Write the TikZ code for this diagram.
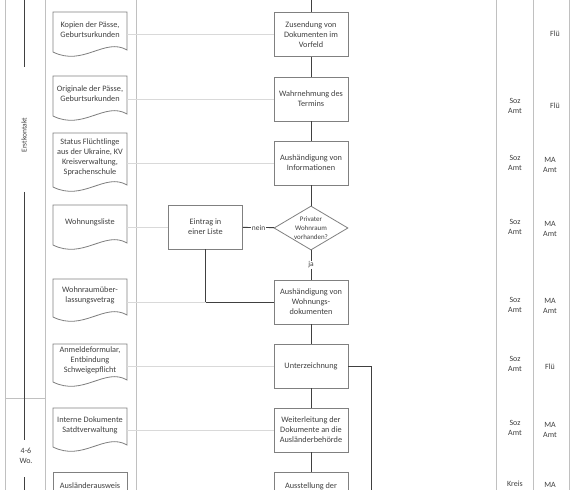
\documentclass[tikz,border=0pt]{standalone}
\usepackage{fontspec}
\setmainfont{Carlito}
\usetikzlibrary{shapes.geometric}
\definecolor{txt}{HTML}{404040}
\definecolor{lanec}{HTML}{C0C0C0}
\definecolor{boxc}{HTML}{808080}
\definecolor{conn}{HTML}{404040}
\definecolor{thinc}{HTML}{D9D9D9}
\tikzset{
  laneline/.style={draw=lanec, line width=0.8bp},
  procbox/.style={draw=boxc, fill=white, line width=0.8bp, minimum width=74bp, minimum height=44bp,
    align=center, inner sep=1bp, text=txt, font=\fontsize{8.3}{10}\selectfont},
  doctext/.style={minimum width=74bp, inner sep=0pt, anchor=north, align=center, text=txt,
    font=\fontsize{8.3}{10}\selectfont},
  docline/.style={draw=boxc, fill=white, line width=0.8bp},
  flow/.style={draw=conn, line width=0.8bp},
  thinline/.style={draw=thinc, line width=0.8bp},
  lanetext/.style={align=center, text=txt, inner sep=0pt, font=\fontsize{8}{10}\selectfont},
  lbl/.style={fill=white, inner sep=0.5bp, text=txt, font=\fontsize{7.5}{9}\selectfont},
  bracket/.style={draw=conn, line width=0.7bp},
}
\newcommand{\docbox}[5]{%
  \draw[docline] (53,#2) -- (127,#2) -- (127,#3-2) .. controls (105,#3-15) and (83,#3+15) .. (53,#3) -- cycle;
  \node[doctext, minimum height=#3-#2-5] (#1) at (90,#2) {#5};
}
\begin{document}
\begin{tikzpicture}[x=1bp,y=-1bp]
\clip (0,0) rectangle (570,490);
\fill[white] (0,0) rectangle (570,490);
% lanes
\draw[laneline] (5,0) -- (5,490);
\draw[laneline] (45,0) -- (45,490);
\draw[laneline] (136,0) -- (136,490);
\draw[laneline] (496,0) -- (496,490);
\draw[laneline] (533,0) -- (533,490);
\draw[laneline] (569,0) -- (569,490);
\draw[laneline] (5,398) -- (45,398);
% phase brackets
\coordinate (k1) at (24,0);
\coordinate (k2) at (24,67);
\coordinate (k3) at (24,192);
\coordinate (k4) at (24,440);
\coordinate (k5) at (24,477);
\coordinate (k6) at (24,490);
\draw[bracket] (k1) -- (k2);
\draw[bracket] (k3) -- (k4);
\draw[bracket] (k5) -- (k6);
\node[lanetext, rotate=90, font=\fontsize{7.5}{9}\selectfont] (ek) at (24,135) {Erstkontakt};
\node[lanetext] (wo) at (26,456) {4-6\\Wo.};
% documents
\docbox{d1}{12}{52}{}{Kopien der Pässe,\\Geburtsurkunden}
\docbox{d2}{76}{116}{}{Originale der Pässe,\\Geburtsurkunden}
\docbox{d3}{133}{187}{}{Status Flüchtlinge\\aus der Ukraine, KV\\Kreisverwaltung,\\Sprachenschule}
\docbox{d4}{205}{245}{}{Wohnungsliste}
\docbox{d5}{279}{317}{}{Wohnraumüber-\\lassungsvetrag}
\docbox{d6}{344}{382}{}{Anmeldeformular,\\Entbindung\\Schweigepflicht}
\docbox{d7}{408}{447}{}{Interne Dokumente\\Satdtverwaltung}
\draw[docline] (53,472) -- (127,472) -- (127,510) -- (53,510) -- cycle;
\node[doctext, anchor=center] (d8) at (90,486) {Ausländerausweis};
% process
\coordinate (top) at (311,0);
\node[procbox] (b1) at (311,34.5) {Zusendung von\\Dokumenten im\\Vorfeld};
\node[procbox] (b2) at (311,99) {Wahrnehmung des\\Termins};
\node[procbox] (b3) at (311,163) {Aushändigung von\\Informationen};
\node[diamond, draw=boxc, fill=white, line width=0.8bp, minimum width=74bp, minimum height=44bp, inner sep=0pt] (dia) at (311,228) {};
\node[align=center, text=txt, inner sep=0pt, font=\fontsize{7}{9}\selectfont] (diat) at (311,228) {Privater\\Wohnraum\\vorhanden?};
\node[procbox] (b5) at (311,302) {Aushändigung von\\Wohnungs-\\dokumenten};
\node[procbox] (b6) at (311,366) {Unterzeichnung};
\node[procbox] (b7) at (311,430) {Weiterleitung der\\Dokumente an die\\Ausländerbehörde};
\node[procbox, anchor=north] (b8) at (311,472) {};
\node[lanetext, font=\fontsize{8.3}{10}\selectfont] (b8t) at (311,486) {Ausstellung der};
\node[procbox] (ein) at (205.5,227) {Eintrag in\\einer Liste};
% flow connectors
\draw[flow] (top) -- (b1);
\draw[flow] (b1) -- (b2);
\draw[flow] (b2) -- (b3);
\draw[flow] (b3) -- (dia);
\draw[flow] (dia) -- node[lbl] {ja} (b5);
\draw[flow] (dia) -- node[lbl] {nein} (ein);
\draw[flow] (ein.south) |- (b5.west);
\draw[flow] (b5) -- (b6);
\draw[flow] (b6) -- (b7);
\draw[flow] (b7) -- (b8);
\coordinate (ue) at (371,490);
\draw[flow] (b6.east) -| (ue);
% document connectors
\draw[thinline] (d1.east |- b1.west) -- (b1.west);
\draw[thinline] (d2.east |- b2.west) -- (b2.west);
\draw[thinline] (d3.east |- b3.west) -- (b3.west);
\draw[thinline] (d4.east |- ein.west) -- (ein.west);
\draw[thinline] (d5.east |- b5.west) -- (ein.south |- b5.west);
\draw[thinline] (d6.east |- b6.west) -- (b6.west);
\draw[thinline] (d7.east |- b7.west) -- (b7.west);
% right lanes
\node[lanetext] (r1b) at (555,34) {Flü};
\node[lanetext] (r2a) at (515,106) {Soz\\Amt};
\node[lanetext] (r2b) at (555,106) {Flü};
\node[lanetext] (r3a) at (515,163) {Soz\\Amt};
\node[lanetext] (r3b) at (550,165) {MA\\Amt};
\node[lanetext] (r4a) at (515,227) {Soz\\Amt};
\node[lanetext] (r4b) at (550,229) {MA\\Amt};
\node[lanetext] (r5a) at (515,305) {Soz\\Amt};
\node[lanetext] (r5b) at (550,306) {MA\\Amt};
\node[lanetext] (r6a) at (515,364) {Soz\\Amt};
\node[lanetext] (r6b) at (550,367) {Flü};
\node[lanetext] (r7a) at (515,428) {Soz\\Amt};
\node[lanetext] (r7b) at (550,430) {MA\\Amt};
\node[lanetext] (r8a) at (515,484) {Kreis};
\node[lanetext] (r8b) at (550,485) {MA};
\end{tikzpicture}
\end{document}
